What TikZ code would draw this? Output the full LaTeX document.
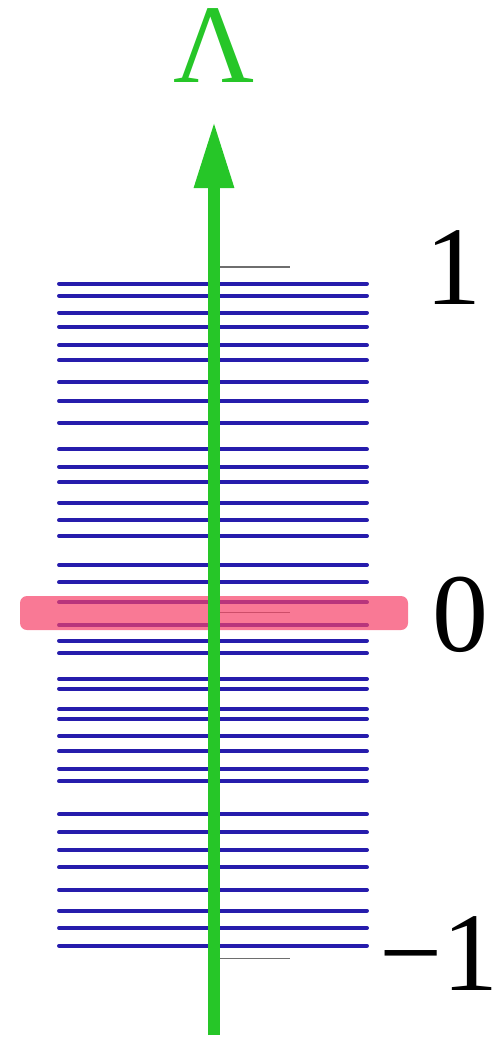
\documentclass[tikz,border=0pt]{standalone}
\usepackage{fontspec}
\setmainfont{Liberation Serif}
\usetikzlibrary{arrows.meta}
\definecolor{axisgreen}{RGB}{38,198,40}
\definecolor{levelblue}{RGB}{38,28,172}
\definecolor{bandpink}{RGB}{246,64,104}
\definecolor{tickgray}{RGB}{110,110,110}
\tikzset{
  level/.style={draw=levelblue, line width=3.9pt, line cap=round},
  tickline/.style={draw=tickgray, line width=1.4pt},
  biglabel/.style={inner sep=0pt, font=\fontsize{112}{112}\selectfont},
  axisline/.style={draw=axisgreen, line width=12pt, -{Triangle[width=37pt,length=67pt]}}
}
\begin{document}
\begin{tikzpicture}[x=1pt,y=-1pt]
\useasboundingbox (0,0) rectangle (497,1038);
% energy levels
\foreach \y in {283.7,295.7,312.7,326.7,345.3,360.3,382.3,401,422.7,449.3,466.7,482.3,502.7,520.3,536,565,582.3,602.3,625,640.7,653.3,679,688.7,709.3,719,736,751.3,768.7,781.3,814.3,832.3,850,867.3,890,910.7,928,945.7}
  \draw[level] (59,\y) -- (367,\y);
% ticks
\coordinate (t1a) at (214,267);   \coordinate (t1b) at (290,267);
\coordinate (t0a) at (214,612.7); \coordinate (t0b) at (290,612.7);
\coordinate (tma) at (214,958.7); \coordinate (tmb) at (290,958.7);
\draw[tickline] (t1a) -- (t1b);
\draw[tickline] (t0a) -- (t0b);
\draw[tickline] (tma) -- (tmb);
% highlighted band at zero
\fill[bandpink, fill opacity=0.7, rounded corners=7pt] (20,596) rectangle (408,630);
% axis
\coordinate (abot) at (214,1035);
\coordinate (atop) at (214,121);
\draw[axisline] (abot) -- (atop);
% labels
\node[biglabel, text=axisgreen, anchor=base, text height=75pt, text depth=0pt] (lam) at (214,83) {Λ};
\node[biglabel, anchor=base] (one) at (453,304) {1};
\node[biglabel, anchor=base] (zero) at (460,651) {0};
\node[biglabel, anchor=base west] (mone) at (379,990) {−1};
\end{tikzpicture}
\end{document}
